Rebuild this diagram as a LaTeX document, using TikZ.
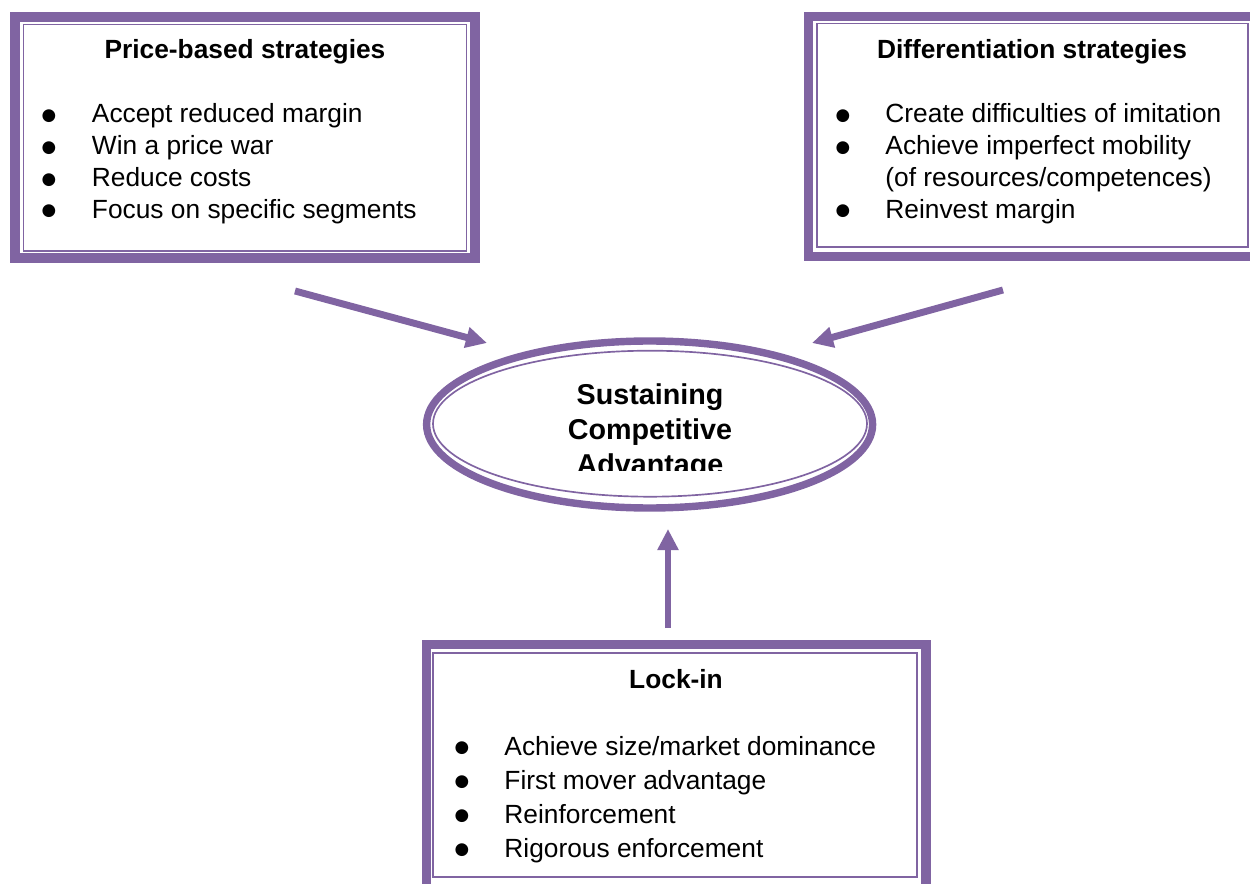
\documentclass[tikz,border=0pt]{standalone}
\usepackage{fontspec}
\setmainfont{Liberation Sans}
\newfontfamily\dotfont{DejaVu Sans}
\usetikzlibrary{arrows.meta, calc, positioning, shapes.geometric}
\definecolor{lilac}{HTML}{8064A2}

\tikzset{
  frame/.style={draw=lilac, line width=3.9pt},
  innerframe/.style={draw=lilac, line width=0.8pt},
  ring/.style={draw=lilac, line width=3.1pt},
  innerring/.style={draw=lilac, line width=0.7pt},
  heading/.style={font=\bfseries\fontsize{11}{13.8}\selectfont, anchor=base, inner sep=0pt},
  item/.style={font=\fontsize{11}{13.8}\selectfont, anchor=base west, inner sep=0pt},
  bull/.style={font=\dotfont\fontsize{7}{8}\selectfont, anchor=center, inner sep=0pt, yshift=2.9pt},
  push/.style={draw=lilac, line width=2.9pt, -{Triangle[length=8.8pt,width=8.4pt]}}
}

\begin{document}
\begin{tikzpicture}[x=0.418pt,y=-0.418pt]
\useasboundingbox (0,0) rectangle (1250,884);
\clip (0,0) rectangle (1250,884);

% boxes
\draw[frame] (15,17) rectangle (475,258);
\draw[innerframe] (23.5,24.5) rectangle (466.5,251);
\draw[frame] (808.5,16.5) rectangle (1262,256.5);
\draw[innerframe] (817,23.5) rectangle (1248,247);
\draw[frame] (426.5,644.5) rectangle (926,900);
\draw[innerframe] (433,653) rectangle (917,877);

% price-based strategies
\node[heading] (price) at (245,59) {Price-based strategies};
\foreach \y/\t [count=\i] in {123/{Accept reduced margin},155/{Win a price war},187/{Reduce costs},218/{Focus on specific segments}} {
  \node[bull] (pricedot\i) at (49,\y) {●};
  \node[item] (priceitem\i) at (91.5,\y) {\t};
}

% differentiation strategies
\node[heading] (diff) at (1032,59) {Differentiation strategies};
\foreach \y/\t [count=\i] in {123/{Create difficulties of imitation},155/{Achieve imperfect mobility},218/{Reinvest margin}} {
  \node[bull] (diffdot\i) at (843,\y) {●};
  \node[item] (diffitem\i) at (885,\y) {\t};
}
\node[item] (diffmore) at (885,187) {(of resources/competences)};

% lock-in
\node[heading] (lock) at (676,688) {Lock-in};
\foreach \y/\t [count=\i] in {755/{Achieve size/market dominance},789/{First mover advantage},823/{Reinforcement},857/{Rigorous enforcement}} {
  \node[bull] (lockdot\i) at (462,\y) {●};
  \node[item] (lockitem\i) at (504,\y) {\t};
}

% sustaining competitive advantage
\draw[ring] (649.6,424.5) ellipse [x radius=223, y radius=83.5];
\draw[innerring] (650,423.7) ellipse [x radius=217, y radius=73];
\begin{scope}
\clip (500,360) rectangle (800,470.5);
\node[font=\bfseries\fontsize{12}{14.6}\selectfont, align=center, anchor=base, inner sep=0pt] (goal) at (650,474) {Sustaining\\Competitive\\Advantage};
\end{scope}

% arrows
\coordinate (pricefrom) at (295,291);
\coordinate (priceto) at (487,343);
\coordinate (difffrom) at (1003,290);
\coordinate (diffto) at (812,343);
\coordinate (lockfrom) at (668,628);
\coordinate (lockto) at (668,529);
\draw[push] (pricefrom) -- (priceto);
\draw[push] (difffrom) -- (diffto);
\draw[push] (lockfrom) -- (lockto);
\end{tikzpicture}
\end{document}
